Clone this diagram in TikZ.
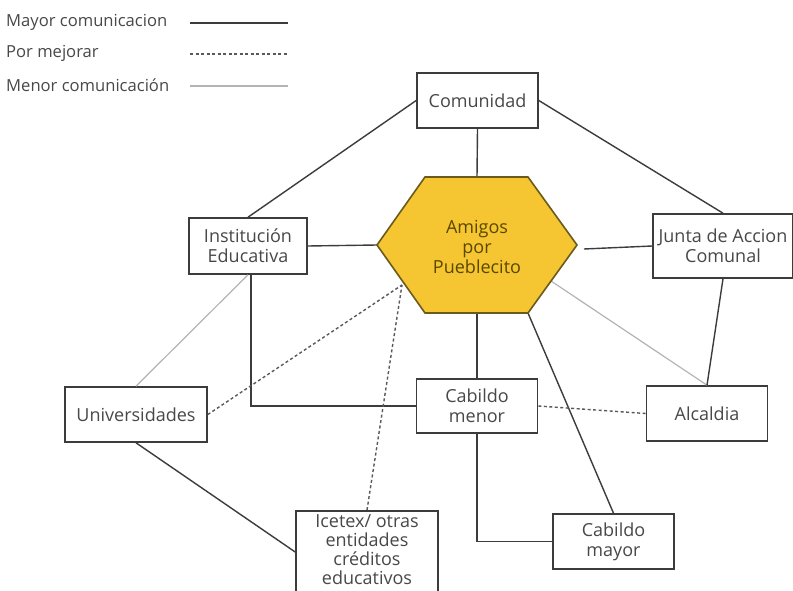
\documentclass[tikz,border=0pt]{standalone}
\usepackage{fontspec}
\setmainfont{Open Sans}
\usetikzlibrary{calc}
\definecolor{txt}{HTML}{484848}
\definecolor{boxline}{HTML}{3C3C3C}
\definecolor{hexfill}{HTML}{F5C632}
\definecolor{hexline}{HTML}{6A5A1C}
\definecolor{hextxt}{HTML}{5A4800}
\definecolor{lightln}{HTML}{B4B4B4}
\tikzset{
  entity/.style={draw=boxline, line width=1.6pt, fill=white, text=txt, align=center,
    inner sep=0pt, font=\fontsize{18}{20}\selectfont},
  mayor/.style={draw=boxline, line width=1.4pt},
  menor/.style={draw=lightln, line width=1.2pt},
  mejorar/.style={draw=boxline!85, line width=1.4pt, dash pattern=on 3pt off 2.5pt},
  legtext/.style={anchor=west, text=txt, inner sep=0pt, font=\fontsize{16.6}{18}\selectfont}
}
\begin{document}
\begin{tikzpicture}[x=1pt,y=-1pt]
\clip (0,0) rectangle (793,591);
\fill[white] (0,0) rectangle (793,591);
% legend
\node[legtext] (l1) at (6,22) {Mayor comunicacion};
\node[legtext] (l2) at (6,53) {Por mejorar};
\node[legtext] (l3) at (6,85) {Menor comunicación};
\coordinate (l1a) at (190,23); \coordinate (l1b) at (288,23);
\coordinate (l2a) at (190,54); \coordinate (l2b) at (288,54);
\coordinate (l3a) at (190,86); \coordinate (l3b) at (288,86);
\draw[mayor] (l1a) -- (l1b);
\draw[mejorar] (l2a) -- (l2b);
\draw[menor] (l3a) -- (l3b);
% hexagon coordinates
\coordinate (hL) at (377,245);
\coordinate (hTL) at (425,177);
\coordinate (hTR) at (528,177);
\coordinate (hR) at (577,245);
\coordinate (hBR) at (528,313);
\coordinate (hBL) at (425,313);
\coordinate (hT) at (477,177);
\coordinate (hB) at (477,313);
\coordinate (hRx) at (584,249);
\coordinate (hLR) at (551,281);
\coordinate (hX) at (402,285);
% boxes
\node[entity, minimum width=121pt, minimum height=55pt] (com) at (477.5,100.5) {Comunidad};
\node[entity, minimum width=118pt, minimum height=56pt] (ie) at (248,246) {Institución\\Educativa};
\node[entity, minimum width=140pt, minimum height=64pt] (jac) at (723,246) {Junta de Accion\\Comunal};
\node[entity, minimum width=142pt, minimum height=55pt] (uni) at (136,414.5) {Universidades};
\node[entity, minimum width=121pt, minimum height=54pt] (cm) at (477,406) {Cabildo\\menor};
\node[entity, minimum width=121pt, minimum height=55pt] (alc) at (707,413.5) {Alcaldia};
\node[entity, minimum width=121pt, minimum height=55pt] (cM) at (613.5,541.5) {Cabildo\\mayor};
\node[entity, minimum width=142pt, minimum height=92pt, anchor=north] (ice) at (367,510) {};
\node[text=txt, align=center, inner sep=0pt, font=\fontsize{18}{19}\selectfont] (icet) at (367,550) {Icetex/ otras\\entidades\\créditos\\educativos};
% connectors
\draw[mayor] (com.south) -- (hT);
\draw[mayor] (com.west) -- (ie.north);
\draw[mayor] (com.east) -- (jac.north);
\draw[mayor] (ie.east) -- (hL);
\draw[mayor] (hRx) -- (jac.west);
\draw[menor] (hLR) -- (alc.north);
\draw[mayor] (jac.south) -- (alc.north);
\draw[mayor] (hB) -- (cm.north);
\draw[mayor] (hBR) -- (cM.north);
\draw[mayor] ($(ie.south)+(3,0)$) |- (cm.west);
\draw[menor] (ie.south) -- (uni.north);
\draw[mejorar] (uni.east) -- (hX);
\draw[mejorar] (ice.north) -- (hX);
\draw[mejorar] (cm.east) -- (alc.west);
\draw[mayor] (cm.south) |- (cM.west);
\draw[mayor] (uni.south) -- ($(ice.north west)+(0,42)$);
% hexagon
\draw[fill=hexfill, draw=hexline, line width=1.6pt, line join=miter] (hL) -- (hTL) -- (hTR) -- (hR) -- (hBR) -- (hBL) -- cycle;
\node[text=hextxt, align=center, inner sep=0pt, font=\fontsize{18}{20}\selectfont] (hex) at (477,247) {Amigos\\por\\Pueblecito};
\end{tikzpicture}
\end{document}
